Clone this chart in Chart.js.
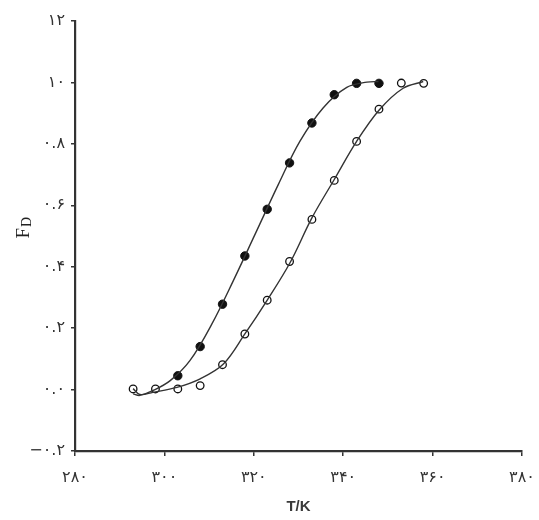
<!DOCTYPE html>
<html>
<head>
<meta charset="utf-8">
<script src="https://cdn.jsdelivr.net/npm/chart.js@4.4.1/dist/chart.umd.min.js"></script>
<style>
  html, body { margin: 0; padding: 0; background: #fff; }
  #wrap { width: 539px; height: 520px; }
</style>
</head>
<body>
<div id="wrap"><canvas id="c" width="539" height="520"></canvas></div>
<script>
// measured points (T in K, fraction denatured)
const filledT = [303, 308, 313, 318, 323, 328, 333, 338, 343, 348];
const filledF = [0.045, 0.14, 0.278, 0.435, 0.587, 0.738, 0.868, 0.96, 0.997, 0.997];

const openT = [293, 298, 303, 308, 313, 318, 323, 328, 333, 338, 343, 348, 353, 358];
const openF = [0.002, 0.002, 0.002, 0.013, 0.081, 0.181, 0.291, 0.417, 0.554, 0.681, 0.808, 0.913, 0.998, 0.997];

// fitted curves
const filledFitT = [293, 294.5, 297.5, 301.3, 305.7, 310.6, 315.4, 320.3, 325.5, 330.3, 335.5, 340.8, 345.3, 347.9];
const filledFitF = [-0.014, -0.019, -0.003, 0.029, 0.094, 0.213, 0.354, 0.506, 0.668, 0.808, 0.917, 0.984, 1.001, 1.003];

const openFitT = [293, 294.5, 297.4, 302.8, 308, 313.2, 318, 322.9, 328.1, 333, 338, 343, 348.1, 353.4, 357.9];
const openFitF = [0.003, -0.016, -0.009, 0.007, 0.035, 0.083, 0.181, 0.289, 0.413, 0.559, 0.684, 0.808, 0.911, 0.981, 1.003];

// tick labels
const xTicks = [280, 300, 320, 340, 360, 380];
const xTickLabels = ["۲۸۰", "۳۰۰", "۳۲۰", "۳۴۰", "۳۶۰", "۳۸۰"];
const yTicks = [-0.2, 0, 0.2, 0.4, 0.6, 0.8, 1.0, 1.2];
const yTickLabels = ["−۰.۲", "۰.۰", "۰.۲", "۰.۴", "۰.۶", "۰.۸", "۱۰", "۱۲"];

const toXY = (xs, ys) => xs.map((x, i) => ({ x: x, y: ys[i] }));
const pickLabel = (v, ticks, labels) => {
  const i = ticks.findIndex(t => Math.abs(t - v) < 1e-6);
  return i < 0 ? "" : labels[i];
};

const ink = "#333";

// y title F with subscript D
const yTitle = {
  id: "yTitle",
  afterDraw(chart) {
    const { ctx, chartArea } = chart;
    const cy = (chartArea.top + chartArea.bottom) / 2 - 10;
    ctx.save();
    ctx.translate(24, cy);
    ctx.rotate(-Math.PI / 2);
    ctx.fillStyle = "#222";
    ctx.textBaseline = "middle";
    ctx.font = "19px 'Liberation Serif'";
    const w = ctx.measureText("F").width;
    ctx.fillText("F", -w - 2, 0);
    ctx.font = "14px 'Liberation Serif'";
    ctx.fillText("D", -1, 3);
    ctx.restore();
  },
};

const config = {
  type: "scatter",
  data: {
    datasets: [
      {
        data: toXY(filledFitT, filledFitF),
        showLine: true,
        borderColor: "#333",
        borderWidth: 1.4,
        tension: 0.35,
        pointRadius: 0,
      },
      {
        data: toXY(openFitT, openFitF),
        showLine: true,
        borderColor: "#333",
        borderWidth: 1.4,
        tension: 0.35,
        pointRadius: 0,
      },
      {
        data: toXY(filledT, filledF),
        pointRadius: 4.2,
        pointBackgroundColor: "#111",
        pointBorderColor: "#111",
        pointBorderWidth: 1,
      },
      {
        data: toXY(openT, openF),
        pointRadius: 3.8,
        pointBackgroundColor: "#fff",
        pointBorderColor: "#111",
        pointBorderWidth: 1.3,
      },
    ],
  },
  options: {
    responsive: false,
    animation: false,
    layout: { padding: { top: 21, right: 17, bottom: 0, left: 0 } },
    plugins: { legend: false, tooltip: { enabled: false } },
    scales: {
      x: {
        type: "linear",
        min: 280,
        max: 380,
        afterBuildTicks: (s) => { s.ticks = xTicks.map(v => ({ value: v })); },
        afterFit: (s) => { s.height = 69; s.paddingLeft = 0; s.paddingRight = 0; },
        ticks: {
          color: ink,
          padding: 12,
          font: { family: "DejaVu Sans", size: 16 },
          callback: (v) => pickLabel(v, xTicks, xTickLabels),
        },
        grid: { drawOnChartArea: false, drawTicks: true, tickLength: 5, color: ink, lineWidth: 1.5 },
        border: { color: ink, width: 2.2 },
        title: {
          display: true,
          text: "T/K",
          color: "#3a3a3a",
          padding: { top: 4 },
          font: { family: "Liberation Sans", size: 15, weight: "bold" },
        },
      },
      y: {
        type: "linear",
        min: -0.2,
        max: 1.2,
        afterBuildTicks: (s) => { s.ticks = yTicks.map(v => ({ value: v })); },
        afterFit: (s) => { s.width = 75; s.paddingTop = 0; s.paddingBottom = 0; },
        ticks: {
          color: ink,
          padding: 6,
          font: { family: "DejaVu Sans", size: 16 },
          callback: (v) => pickLabel(v, yTicks, yTickLabels),
        },
        grid: { drawOnChartArea: false, drawTicks: true, tickLength: 4, color: ink, lineWidth: 1.5 },
        border: { color: ink, width: 2.2 },
      },
    },
  },
  plugins: [yTitle],
};

new Chart(document.getElementById("c"), config);
</script>
</body>
</html>
